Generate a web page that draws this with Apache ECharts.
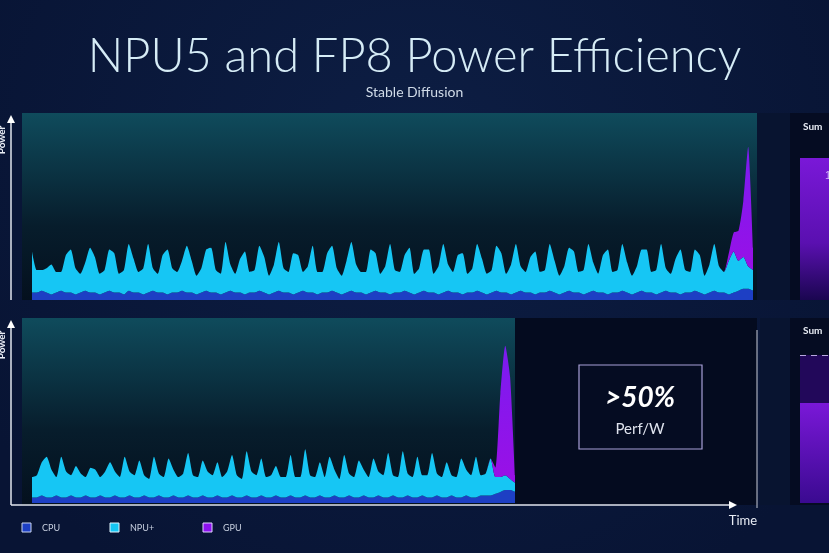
<!DOCTYPE html>
<html><head><meta charset="utf-8">
<script src="https://cdn.jsdelivr.net/npm/echarts@6/dist/echarts.min.js"></script>
<style>html,body{margin:0;padding:0;background:#0a1838;}#c{width:829px;height:553px;}</style>
</head><body><div id="c"></div>
<script>
const topCPU = [
4,4,5,4,3,4,5,4,4,3,4,5,4,4,3,4,5,4,4,3,5,4,4,3,4,5,4,4,3,4,
4,5,4,4,3,4,5,4,4,3,4,5,4,4,3,4,4,5,4,3,4,5,4,4,3,4,5,4,4,3,
4,4,5,4,3,4,5,4,4,3,4,5,4,4,3,4,4,5,4,3,4,5,4,4,3,4,5,4,4,3,
4,4,5,4,3,4,5,4,4,3,4,5,4,4,3,4,4,5,4,3,4,5,4,4,3,4,5,4,4,3,
4,4,5,4,3,4,5,4,4,3,4,5,4,4,3,4,4,5,4,3,4,5,4,4,3,4,5,6,6,5];
const topNPU = [
22,12,11,13,16,11,10,20,23,14,10,15,24,19,11,12,22,21,10,13,25,18,11,14,26,12,10,20,24,13,
11,16,25,17,10,13,22,24,12,11,27,14,10,18,23,11,12,24,19,10,15,26,13,11,22,20,10,14,25,12,
11,21,24,13,10,17,26,15,11,12,23,20,10,14,27,12,11,19,24,11,13,22,23,10,15,26,14,11,20,22,
10,13,25,18,11,12,24,21,10,16,26,13,11,19,23,11,12,25,17,10,14,23,22,11,13,26,15,10,20,24,
11,12,25,16,10,14,22,23,11,13,26,12,10,18,24,12,11,22,20,10,15,25,14,11,18,22,16,17,12,11];
const topGPU = [
0,0,0,0,0,0,0,0,0,0,0,0,0,0,0,0,0,0,0,0,0,0,0,0,0,0,0,0,0,0,
0,0,0,0,0,0,0,0,0,0,0,0,0,0,0,0,0,0,0,0,0,0,0,0,0,0,0,0,0,0,
0,0,0,0,0,0,0,0,0,0,0,0,0,0,0,0,0,0,0,0,0,0,0,0,0,0,0,0,0,0,
0,0,0,0,0,0,0,0,0,0,0,0,0,0,0,0,0,0,0,0,0,0,0,0,0,0,0,0,0,0,
0,0,0,0,0,0,0,0,0,0,0,0,0,0,0,0,0,0,0,0,0,0,0,0,4,10,16,30,64,12];
const botCPU = [
3,3,4,3,3,4,3,3,4,3,3,4,3,3,4,3,3,4,3,3,4,3,3,4,3,3,4,3,3,4,
3,3,4,3,3,4,3,3,4,3,3,4,3,3,4,3,3,4,3,3,4,3,3,4,3,3,4,3,3,4,
3,3,4,3,3,4,3,3,4,3,3,4,3,3,4,3,3,4,3,3,4,3,3,4,3,3,4,3,3,4,
3,3,4,4,4,5,6,7,7,6];
const botNPU = [
11,12,18,22,15,10,22,14,11,17,13,10,16,15,10,14,19,13,11,22,13,12,20,11,10,22,12,11,21,14,
11,13,23,12,11,19,14,12,18,11,14,22,12,10,24,14,12,20,11,12,16,11,11,22,11,11,25,12,11,18,
11,22,14,10,23,12,11,20,14,11,21,13,12,24,11,11,25,12,11,22,11,12,24,12,11,19,11,11,21,14,
12,22,11,12,20,9,8,8,6,5];
const botGPU = [
0,0,0,0,0,0,0,0,0,0,0,0,0,0,0,0,0,0,0,0,0,0,0,0,0,0,0,0,0,0,
0,0,0,0,0,0,0,0,0,0,0,0,0,0,0,0,0,0,0,0,0,0,0,0,0,0,0,0,0,0,
0,0,0,0,0,0,0,0,0,0,0,0,0,0,0,0,0,0,0,0,0,0,0,0,0,0,0,0,0,0,
0,0,0,0,0,5,45,70,55,4];
const legendNames = ['CPU','NPU+','GPU'];
const sumTop = [76];
const sumBotTotal = [80];
const sumBotNew = [54];

const C_CPU='#1d3fc4', C_NPU='#16c6f4', C_GPU='#8c12ee';
const idx = (n)=>Array.from({length:n},(_,i)=>i);
const chart = echarts.init(document.getElementById('c'));
const teal = {type:'linear',x:0,y:0,x2:0,y2:1,colorStops:[{offset:0,color:'#0f4b5c'},{offset:0.6,color:'#071d2c'},{offset:1,color:'#04101e'}]};
const gpuGrad = {type:'linear',x:0,y:0,x2:0,y2:1,colorStops:[{offset:0,color:'#7a1cf0'},{offset:1,color:'#9a10e6'}]};
function area(name,data,color,xi,stack){return {name,type:'line',xAxisIndex:xi,yAxisIndex:xi,stack,data,symbol:'none',smooth:0.2,lineStyle:{width:0},areaStyle:{color:color,opacity:1},itemStyle:{color}};}
chart.setOption({
  backgroundColor:{type:'radial',x:0.5,y:0.3,r:0.9,colorStops:[{offset:0,color:'#0d1e44'},{offset:1,color:'#081434'}]},
  animation:false,
  title:[{text:'NPU5 and FP8 Power Efficiency',left:'center',top:28,textStyle:{color:'#d6ecf6',fontSize:47,fontWeight:300,fontFamily:'Lato'}},
         {text:'Stable Diffusion',left:'center',top:80,textStyle:{color:'#d0dbe8',fontSize:14,fontWeight:'normal',fontFamily:'Lato'}}],
  legend:{show:false},
  graphic:[
    {type:'rect',shape:{x:757,y:113,width:33,height:187},style:{fill:'#081430'},z:-10},
    {type:'rect',shape:{x:790,y:113,width:40,height:187},style:{fill:'#050c22'},z:-10},
    {type:'rect',shape:{x:515,y:318,width:242,height:187},style:{fill:'#040b1f'},z:-10},
    {type:'rect',shape:{x:760,y:318,width:30,height:187},style:{fill:'#081430'},z:-10},
    {type:'rect',shape:{x:790,y:318,width:40,height:187},style:{fill:'#050c22'},z:-10},
    {type:'line',shape:{x1:757,y1:330,x2:757,y2:508},style:{stroke:'#c8ccd8',lineWidth:1}},
    {type:'line',shape:{x1:11,y1:300,x2:11,y2:122},style:{stroke:'#e0e4ee',lineWidth:1.5}},
    {type:'polygon',shape:{points:[[7,123],[15,123],[11,115]]},style:{fill:'#ffffff'}},
    {type:'line',shape:{x1:11,y1:505,x2:11,y2:327},style:{stroke:'#e0e4ee',lineWidth:1.5}},
    {type:'polygon',shape:{points:[[7,328],[15,328],[11,320]]},style:{fill:'#ffffff'}},
    {type:'line',shape:{x1:11,y1:505,x2:730,y2:505},style:{stroke:'#e0e4ee',lineWidth:1.5}},
    {type:'polygon',shape:{points:[[729,501],[729,509],[737,505]]},style:{fill:'#ffffff'}},
    {type:'text',x:743,y:521,style:{text:'Time',fill:'#e8ecf4',font:'13px Lato',align:'center',verticalAlign:'middle'}},
    {type:'text',x:2,y:140,rotation:Math.PI/2,style:{text:'Power',fill:'#e8ecf4',font:'bold 10px Lato',align:'center',verticalAlign:'middle'}},
    {type:'text',x:2,y:345,rotation:Math.PI/2,style:{text:'Power',fill:'#e8ecf4',font:'bold 10px Lato',align:'center',verticalAlign:'middle'}},
    {type:'rect',shape:{x:579,y:365,width:123,height:84},style:{fill:'#050c22',stroke:'#a8a0d8',lineWidth:1.2}},
    {type:'text',x:640,y:398,style:{text:'>50%',fill:'#ffffff',font:'italic bold 28px Lato',align:'center',verticalAlign:'middle'}},
    {type:'text',x:640,y:429,style:{text:'Perf/W',fill:'#dfe3ee',font:'15px Lato',align:'center',verticalAlign:'middle'}},
    {type:'text',x:803,y:127,style:{text:'Sum',fill:'#e8ecf4',font:'bold 10px Lato',verticalAlign:'middle'}},
    {type:'text',x:803,y:331,style:{text:'Sum',fill:'#e8ecf4',font:'bold 10px Lato',verticalAlign:'middle'}},
    {type:'rect',shape:{x:22,y:523,width:9,height:9},style:{fill:C_CPU,stroke:'#c8d4f0',lineWidth:1}},
    {type:'rect',shape:{x:110,y:523,width:9,height:9},style:{fill:C_NPU,stroke:'#e0f4ff',lineWidth:1}},
    {type:'rect',shape:{x:203,y:523,width:9,height:9},style:{fill:C_GPU,stroke:'#e0d4ff',lineWidth:1}},
    {type:'text',x:42,y:528,style:{text:legendNames[0],fill:'#c8d0e0',font:'9px Lato',verticalAlign:'middle'}},
    {type:'text',x:130,y:528,style:{text:legendNames[1],fill:'#c8d0e0',font:'9px Lato',verticalAlign:'middle'}},
    {type:'text',x:223,y:528,style:{text:legendNames[2],fill:'#c8d0e0',font:'9px Lato',verticalAlign:'middle'}}
  ],
  grid:[
    {left:32,top:113,width:721,height:187,show:false},
    {left:32,top:318,width:483,height:185,show:false},
    {left:800,top:113,width:60,height:187,show:false},
    {left:800,top:318,width:60,height:185,show:false},
    {left:22,top:113,width:735,height:187,show:true,backgroundColor:teal,borderWidth:0,z:-5},
    {left:22,top:318,width:493,height:187,show:true,backgroundColor:teal,borderWidth:0,z:-5}
  ],
  xAxis:[
    {type:'category',gridIndex:0,data:idx(topNPU.length),boundaryGap:false,show:false},
    {type:'category',gridIndex:1,data:idx(botNPU.length),boundaryGap:false,show:false},
    {type:'category',gridIndex:2,data:['s'],show:false},
    {type:'category',gridIndex:3,data:['s'],show:false},
    {type:'value',gridIndex:4,show:false},{type:'value',gridIndex:5,show:false}
  ],
  yAxis:[
    {type:'value',gridIndex:0,min:0,max:100,show:false},
    {type:'value',gridIndex:1,min:0,max:100,show:false},
    {type:'value',gridIndex:2,min:0,max:100,show:false},
    {type:'value',gridIndex:3,min:0,max:100,show:false},
    {type:'value',gridIndex:4,show:false},{type:'value',gridIndex:5,show:false}
  ],
  series:[
    area('CPU',topCPU,C_CPU,0,'t'),area('NPU+',topNPU,C_NPU,0,'t'),area('GPU',topGPU,gpuGrad,0,'t'),
    area('CPU',botCPU,C_CPU,1,'b'),area('NPU+',botNPU,C_NPU,1,'b'),area('GPU',botGPU,gpuGrad,1,'b'),
    {type:'bar',xAxisIndex:2,yAxisIndex:2,data:sumTop,barWidth:'100%',itemStyle:{color:{type:'linear',x:0,y:0,x2:0,y2:1,colorStops:[{offset:0,color:'#7a18d8'},{offset:0.6,color:'#5a10b0'},{offset:1,color:'#1a0650'}]}},
     label:{show:true,position:'insideTopLeft',offset:[20,8],formatter:'1',color:'#d0b8f8',fontSize:11}},
    {type:'bar',xAxisIndex:3,yAxisIndex:3,data:sumBotTotal,barWidth:'100%',barGap:'-100%',itemStyle:{color:'#22085a'},
     markLine:{symbol:'none',silent:true,label:{show:false},lineStyle:{color:'#b8a8e0',type:[6,5],width:1.2},data:[{yAxis:sumBotTotal[0]}]}},
    {type:'bar',xAxisIndex:3,yAxisIndex:3,data:sumBotNew,barWidth:'100%',barGap:'-100%',itemStyle:{color:{type:'linear',x:0,y:0,x2:0,y2:1,colorStops:[{offset:0,color:'#7a18d8'},{offset:1,color:'#3a0a90'}]}}}
  ]
});
</script></body></html>
